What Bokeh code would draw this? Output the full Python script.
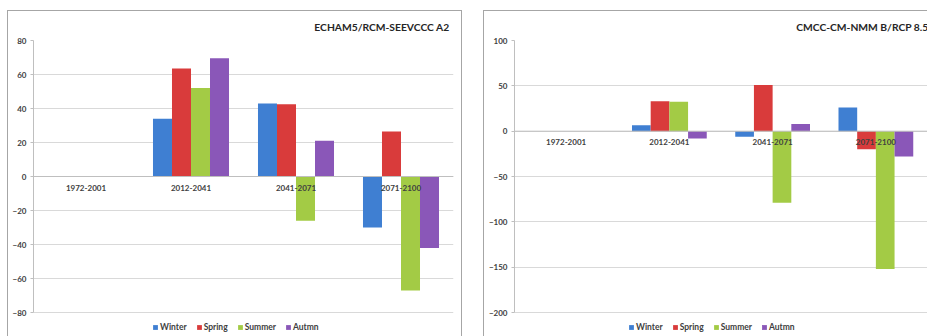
from bokeh.plotting import figure
from bokeh.models import (FactorRange, Range1d, ColumnDataSource, Legend, LegendItem,
                          FixedTicker, Spacer, Span)
from bokeh.core.properties import value
from bokeh.transform import dodge
from bokeh.layouts import row, column
from bokeh.embed import file_html
from bokeh.resources import INLINE

periods = ["1972-2001", "2012-2041", "2041-2071", "2071-2100"]
seasons = ["Winter", "Spring", "Summer", "Autmn"]

# ECHAM5/RCM-SEEVCCC A2
a2_winter = [0, 34, 43, -30]
a2_spring = [0, 63.5, 42.5, 26.5]
a2_summer = [0, 52, -26, -67]
a2_autumn = [0, 69.5, 21, -42]
a2_ticks = [-80, -60, -40, -20, 0, 20, 40, 60, 80]

# CMCC-CM-NMMB/RCP 8.5
rcp_winter = [0, 6.5, -6, 26]
rcp_spring = [0, 33, 51, -20]
rcp_summer = [0, 32.5, -79, -152]
rcp_autumn = [0, -8, 8, -28]
rcp_ticks = [-200, -150, -100, -50, 0, 50, 100]

colors = ["#3f7fd2", "#d93b3b", "#a3cb45", "#8a57b8"]

FONT = "Lato"
TXT = "#404040"
BORDER = "#a6a6a6"


def make_panel(title, series, yticks, px_per_unit, fw, mbl, mbr, title_off, leg_x):
    mbt, fh, mbb = 29, 294, 2
    # frame extends below the lowest tick to leave room for the legend
    y_start = yticks[0] - 22 / px_per_unit
    y_end = yticks[-1]
    src = ColumnDataSource(dict(period=periods, Winter=series[0], Spring=series[1],
                                Summer=series[2], Autmn=series[3],
                                zero=[0] * len(periods)))
    p = figure(x_range=FactorRange(factors=periods, range_padding=0),
               y_range=Range1d(y_start, y_end),
               width=fw + mbl + mbr, height=fh + mbt + mbb,
               frame_width=fw, frame_height=fh,
               output_backend="svg", toolbar_location=None,
               min_border_left=mbl, min_border_right=mbr, min_border_top=mbt,
               min_border_bottom=mbb)
    w = 0.181
    offs = [-1.5 * w, -0.5 * w, 0.5 * w, 1.5 * w]
    rends = []
    for s, off, c in zip(seasons, offs, colors):
        r = p.vbar(x=dodge("period", off, range=p.x_range), top=s, bottom=0, width=w,
                   source=src, fill_color=c, line_color=None)
        rends.append(r)

    p.add_layout(Span(location=0, dimension="width", line_color="#bfbfbf", line_width=1))

    # category labels sit just under the zero line, as in the original
    p.text(x="period", y="zero", text="period", source=src, y_offset=11,
           text_align="center", text_baseline="middle",
           text_font=value(FONT), text_font_style="bold", text_font_size="8px",
           text_color=TXT)

    p.title.text = title
    p.title.align = "right"
    p.title.vertical_align = "middle"
    p.title.offset = title_off
    p.title.standoff = 14
    p.title.text_font = FONT
    p.title.text_font_style = "bold"
    p.title.text_font_size = "10.3px"
    p.title.text_color = "#262626"

    p.outline_line_color = None
    p.xgrid.grid_line_color = None
    p.ygrid.grid_line_color = "#d9d9d9"
    p.ygrid.ticker = FixedTicker(ticks=yticks)
    p.xaxis.visible = False

    p.yaxis.ticker = FixedTicker(ticks=yticks)
    p.yaxis.bounds = (yticks[0], yticks[-1])
    p.yaxis.axis_line_color = "#bfbfbf"
    p.yaxis.major_tick_line_color = "#bfbfbf"
    p.yaxis.major_tick_out = 3
    p.yaxis.major_tick_in = 0
    p.yaxis.minor_tick_line_color = None
    p.yaxis.major_label_text_font = FONT
    p.yaxis.major_label_text_font_style = "bold"
    p.yaxis.major_label_text_font_size = "8px"
    p.yaxis.major_label_text_color = TXT
    p.yaxis.major_label_standoff = 4

    legend = Legend(items=[LegendItem(label=s, renderers=[r]) for s, r in zip(seasons, rends)],
                    orientation="horizontal", location=(leg_x, 2),
                    glyph_width=6, glyph_height=6, label_standoff=2, spacing=9,
                    padding=0, margin=0, border_line_color=None, background_fill_alpha=0,
                    label_text_font=FONT, label_text_font_style="bold",
                    label_text_font_size="8.5px", label_text_color=TXT)
    p.add_layout(legend, "center")
    return p


def line(w, h):
    return Spacer(width=w, height=h, styles={"background-color": BORDER})


p1 = make_panel("ECHAM5/RCM-SEEVCCC A2", [a2_winter, a2_spring, a2_summer, a2_autumn],
                a2_ticks, 272 / 160, 420, 25, 8, 4, 119)
p2 = make_panel("CMCC-CM-NMM B/RCP 8.5", [rcp_winter, rcp_spring, rcp_summer, rcp_autumn],
                rcp_ticks, 273 / 300, 413, 30, 0, -1, 114)

left_panel = column(line(455, 1), row(line(1, 325), p1, line(1, 325)))
right_panel = column(line(444, 1), row(line(1, 325), p2))
layout = column(Spacer(width=927, height=10),
                row(Spacer(width=7, height=326), left_panel, Spacer(width=21, height=326),
                    right_panel))
open("out.html", "w").write(file_html(layout, INLINE))
